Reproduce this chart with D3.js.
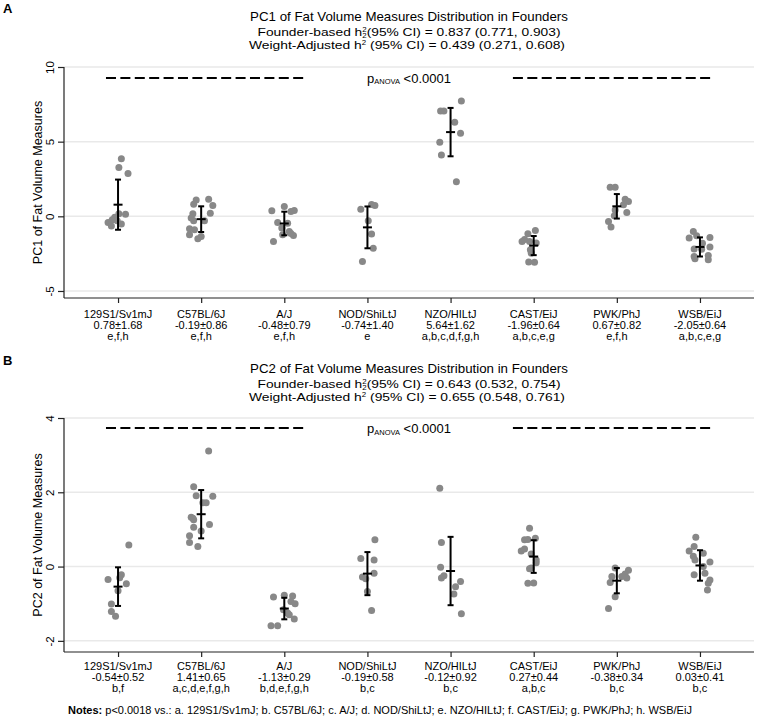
<!DOCTYPE html>
<html><head><meta charset="utf-8">
<script src="https://cdn.jsdelivr.net/npm/d3@7"></script>
<style>
body{margin:0;background:#fff}
svg{display:block}
text{font-family:"Liberation Sans",Arial,sans-serif;fill:#000}
</style>
</head><body>
<svg id="chart" width="757" height="721"></svg>
<script>
// ---------------- DATA ----------------
const categories = ["129S1/Sv1mJ","C57BL/6J","A/J","NOD/ShiLtJ","NZO/HILtJ","CAST/EiJ","PWK/PhJ","WSB/EiJ"];

// PC1 individual values per strain and horizontal jitter (fraction of category step)
const pc1Values = [
  [3.85,3.27,2.87,0.14,0.17,-0.06,-0.41,-0.64,-0.52,-0.23,-0.30],
  [1.10,1.15,0.81,0.72,0.21,0.17,-0.30,-0.30,-0.84,-0.90,-1.24,-1.35,-1.50,-0.12],
  [0.37,0.66,0.32,0.39,-0.41,-0.46,-0.79,-1.01,-1.28,-1.15,-1.68,-1.24],
  [0.48,0.72,0.80,-0.30,-1.19,-2.13,-3.02],
  [7.73,7.06,7.06,6.30,5.57,4.96,4.11,2.31],
  [-0.95,-1.17,-1.68,-1.68,-1.79,-2.24,-2.46,-3.06,-3.08,-1.56],
  [1.95,1.95,1.15,0.99,0.77,0.43,0.25,0.03,-0.35,-0.72],
  [-1.02,-1.46,-1.30,-1.42,-1.80,-2.19,-2.20,-2.06,-2.62,-2.69,-2.84,-2.91]
];
const pc1Jitter = [
  [0.04,0.01,0.12,0.09,0.01,-0.04,-0.12,-0.08,0.04,-0.07,-0.01],
  [-0.06,0.09,-0.09,0.14,0.11,-0.10,0.04,-0.09,-0.14,-0.08,-0.14,0.00,-0.04,-0.12],
  [-0.15,0.00,0.08,0.12,-0.08,0.04,-0.03,0.06,0.11,0.08,-0.13,-0.02],
  [-0.08,0.09,0.05,0.01,0.05,0.07,-0.06],
  [0.13,-0.12,-0.08,0.05,0.12,-0.13,-0.11,0.07],
  [0.02,-0.07,-0.14,-0.05,0.03,-0.04,-0.03,-0.06,0.01,-0.11],
  [-0.08,-0.02,0.10,0.14,0.08,-0.02,0.12,-0.03,-0.10,-0.07],
  [-0.08,-0.13,-0.04,0.12,0.03,-0.07,0.02,0.12,0.10,-0.07,-0.06,0.10]
];
const pc1Mean = [0.78,-0.19,-0.48,-0.74,5.64,-1.96,0.67,-2.05];
const pc1SD   = [1.68,0.86,0.79,1.40,1.62,0.64,0.82,0.64];
const pc1Letters = ["e,f,h","e,f,h","e,f,h","e","a,b,c,d,f,g,h","a,b,c,e,g","e,f,h","a,b,c,e,g"];
const pc1Ticks = [-5,0,5,10];
const pc1Herit = {founder:"0.837 (0.771, 0.903)", weight:"0.439 (0.271, 0.608)"};
const pc1Dash = 9.27;

const pc2Values = [
  [0.58,-0.35,-0.22,-0.30,-0.46,-0.65,-1.01,-1.21,-1.34],
  [3.11,2.15,1.91,1.89,1.72,1.72,1.33,1.26,1.30,1.13,1.06,0.96,0.83,0.65,0.54],
  [-0.82,-0.77,-0.79,-0.94,-1.00,-1.16,-1.25,-1.30,-1.41,-1.59,-1.59],
  [0.72,0.22,0.18,-0.18,-0.28,-0.33,-0.67,-1.18],
  [2.11,0.65,-0.02,-0.31,-0.25,-0.40,-0.54,-0.74,-1.27],
  [1.03,0.76,0.72,0.73,0.42,0.47,0.34,0.18,-0.04,0.10,-0.06,-0.45,-0.44],
  [-0.04,-0.10,-0.20,-0.27,-0.31,-0.27,-0.43,-0.81,-1.13],
  [0.79,0.54,0.42,0.36,0.28,0.18,0.12,0.00,-0.22,-0.18,-0.36,-0.45,-0.63]
];
const pc2Jitter = [
  [0.13,-0.12,0.04,0.02,0.10,0.00,-0.08,-0.08,-0.03],
  [0.09,-0.09,-0.06,0.14,0.02,0.06,-0.12,-0.09,-0.10,0.10,-0.09,0.00,-0.14,-0.14,-0.04],
  [-0.13,0.00,0.10,0.08,0.13,-0.01,0.04,0.06,0.12,-0.16,-0.08],
  [0.09,-0.08,0.08,0.08,-0.06,-0.02,0.00,0.05],
  [-0.13,-0.11,-0.12,-0.11,-0.08,0.12,0.06,0.04,0.13],
  [-0.05,0.02,-0.11,-0.07,-0.15,-0.11,-0.03,0.03,-0.03,0.03,-0.05,-0.07,0.00],
  [-0.02,0.14,0.10,-0.06,0.12,0.06,-0.08,-0.02,-0.10],
  [-0.05,-0.07,-0.13,0.04,-0.08,-0.06,0.12,0.04,-0.07,0.06,0.12,0.10,0.09]
];
const pc2Mean = [-0.54,1.41,-1.13,-0.19,-0.12,0.27,-0.38,0.03];
const pc2SD   = [0.52,0.65,0.29,0.58,0.92,0.44,0.34,0.41];
const pc2Letters = ["b,f","a,c,d,e,f,g,h","b,d,e,f,g,h","b,c","b,c","a,b,c","b,c","b,c"];
const pc2Ticks = [-2,0,2,4];
const pc2Herit = {founder:"0.643 (0.532, 0.754)", weight:"0.655 (0.548, 0.761)"};
const pc2Dash = 3.73;

const anovaText = "<0.0001";
const dashSegments = [[-0.145, 2.27],[4.75, 7.16]]; // in category-index units
const notesText = "p<0.0018 vs.: a. 129S1/Sv1mJ; b. C57BL/6J; c. A/J; d. NOD/ShiLtJ; e. NZO/HILtJ; f. CAST/EiJ; g. PWK/PhJ; h. WSB/EiJ";

// ---------------- DRAW ----------------
const svg = d3.select("#chart");
const left = 64, right = 754;
const fmt = v => v.toFixed(2);

const x = d3.scalePoint().domain(categories).range([left, right]).padding(0.65);
const xi = d3.scaleLinear().domain([0, categories.length-1]).range([x(categories[0]), x(categories[categories.length-1])]);

function panel(cfg){
  const g = svg.append("g");
  const y = d3.scaleLinear().domain(cfg.domain).range([cfg.bottom, cfg.top]);
  const cx = (left+right)/2;

  // panel letter
  g.append("text").attr("x",3).attr("y",cfg.letterY).attr("font-size",13).attr("font-weight","bold").text(cfg.letter);
  // titles
  g.append("text").attr("x",cx).attr("y",cfg.titleY).attr("text-anchor","middle").attr("font-size",13.3).text(cfg.title);
  const t1 = g.append("text").attr("x",cx).attr("y",cfg.titleY+15).attr("text-anchor","middle").attr("font-size",11.4)
    .attr("textLength",303).attr("lengthAdjust","spacingAndGlyphs");
  t1.append("tspan").text("Founder-based h");
  t1.append("tspan").attr("dy",-4.5).attr("font-size",6.5).text("2");
  t1.append("tspan").attr("dx",-3.6).attr("dy",6).attr("font-size",6.5).text("2");
  t1.append("tspan").attr("dy",-1.5).text("(95% CI) = " + cfg.herit.founder);
  const t2 = g.append("text").attr("x",cx-2).attr("y",cfg.titleY+28).attr("text-anchor","middle").attr("font-size",11.4)
    .attr("textLength",316).attr("lengthAdjust","spacingAndGlyphs");
  t2.append("tspan").text("Weight-Adjusted h");
  t2.append("tspan").attr("dy",-4).attr("font-size",6.5).text("2");
  t2.append("tspan").attr("dy",4).text(" (95% CI) = " + cfg.herit.weight);

  // gridlines
  g.append("g").selectAll("line").data(cfg.ticks).join("line")
    .attr("x1",left).attr("x2",right).attr("y1",d=>y(d)).attr("y2",d=>y(d))
    .attr("stroke","#e9e9e9").attr("stroke-width",1.5);

  // dashed lines + ANOVA text
  g.append("g").selectAll("line").data(dashSegments).join("line")
    .attr("x1",d=>xi(d[0])).attr("x2",d=>xi(d[1]))
    .attr("y1",y(cfg.dash)).attr("y2",y(cfg.dash))
    .attr("stroke","#000").attr("stroke-width",2).attr("stroke-dasharray","10,4.4");
  const at = g.append("text").attr("x",cx).attr("y",y(cfg.dash)+5).attr("text-anchor","middle").attr("font-size",13);
  at.append("tspan").text("p");
  at.append("tspan").attr("font-size",7.5).attr("dy",1.5).text("ANOVA");
  at.append("tspan").attr("dy",-1.5).text(" " + anovaText);

  // dots
  const pts = [];
  cfg.values.forEach((arr,i)=>arr.forEach((v,j)=>pts.push({i, v, j: cfg.jitter[i][j]})));
  g.append("g").selectAll("circle").data(pts).join("circle")
    .attr("cx",d=>xi(d.i + d.j)).attr("cy",d=>y(d.v)).attr("r",3.5).attr("fill","#888888");

  // error bars: mean ± SD
  const eb = g.append("g").attr("stroke","#000").attr("stroke-width",2);
  categories.forEach((c,i)=>{
    const m = cfg.mean[i], s = cfg.sd[i], px = x(c);
    eb.append("line").attr("x1",px).attr("x2",px).attr("y1",y(m-s)).attr("y2",y(m+s));
    eb.append("line").attr("x1",px-3).attr("x2",px+3).attr("y1",y(m-s)).attr("y2",y(m-s));
    eb.append("line").attr("x1",px-3).attr("x2",px+3).attr("y1",y(m+s)).attr("y2",y(m+s));
    eb.append("line").attr("x1",px-4.5).attr("x2",px+4.5).attr("y1",y(m)).attr("y2",y(m));
  });

  // y axis
  const ya = g.append("g").attr("transform",`translate(${left},0)`)
    .call(d3.axisLeft(y).tickValues(cfg.ticks).tickFormat(d=>String(d)).tickSize(6).tickSizeOuter(0));
  ya.select(".domain").attr("stroke","#222").attr("stroke-width",1.2).attr("d",`M0,${cfg.top}V${cfg.bottom}`);
  ya.selectAll(".tick line").attr("stroke","#222").attr("stroke-width",1.2);
  ya.selectAll(".tick text").attr("font-size",11.5).attr("font-family","Liberation Sans, Arial, sans-serif")
    .attr("fill","#000").attr("text-anchor","middle").attr("x",0).attr("dy",0)
    .attr("transform","translate(-10,0) rotate(-90)");

  // y title
  g.append("text").attr("transform",`translate(42,${(cfg.top+cfg.bottom)/2}) rotate(-90)`)
    .attr("text-anchor","middle").attr("font-size",12.5).text(cfg.ytitle);

  // x axis
  const xa = g.append("g").attr("transform",`translate(0,${cfg.bottom})`)
    .call(d3.axisBottom(x).tickSize(5).tickSizeOuter(0).tickFormat(""));
  xa.select(".domain").attr("stroke","#222").attr("stroke-width",1.2).attr("d",`M${left},0H${right}`);
  xa.selectAll(".tick line").attr("stroke","#222").attr("stroke-width",1.2);

  // x labels (3 lines)
  const lab = g.append("g").selectAll("text").data(categories).join("text")
    .attr("x",d=>x(d)).attr("y",cfg.bottom+cfg.labOff).attr("text-anchor","middle").attr("font-size",11);
  lab.append("tspan").attr("x",d=>x(d)).text(d=>d);
  lab.append("tspan").attr("x",d=>x(d)).attr("dy",11.2).text((d,i)=>fmt(cfg.mean[i])+"±"+fmt(cfg.sd[i]));
  lab.append("tspan").attr("x",d=>x(d)).attr("dy",11.2).text((d,i)=>cfg.letters[i]);
}

panel({letter:"A", letterY:13, title:"PC1 of Fat Volume Measures Distribution in Founders", titleY:21,
  herit:pc1Herit, domain:[-5.47,10], top:67, bottom:298, ticks:pc1Ticks, dash:pc1Dash,
  values:pc1Values, jitter:pc1Jitter, mean:pc1Mean, sd:pc1SD, letters:pc1Letters,
  ytitle:"PC1 of Fat Volume Measures", labOff:20});

panel({letter:"B", letterY:365, title:"PC2 of Fat Volume Measures Distribution in Founders", titleY:373,
  herit:pc2Herit, domain:[-2.3,4], top:418, bottom:652, ticks:pc2Ticks, dash:pc2Dash,
  values:pc2Values, jitter:pc2Jitter, mean:pc2Mean, sd:pc2SD, letters:pc2Letters,
  ytitle:"PC2 of Fat Volume Measures", labOff:18});

// notes
const nt = svg.append("text").attr("x",68).attr("y",714).attr("font-size",11);
nt.append("tspan").attr("font-weight","bold").text("Notes:");
nt.append("tspan").text(" " + notesText);
</script>
</body></html>
